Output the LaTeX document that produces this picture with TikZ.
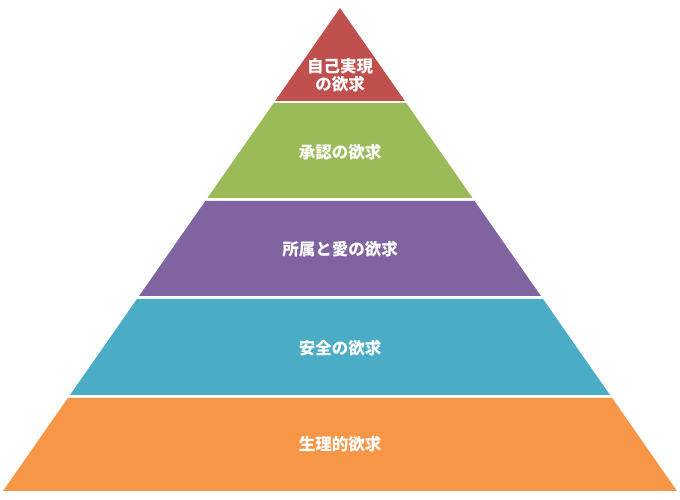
\documentclass[tikz,border=0pt]{standalone}
\usepackage{fontspec}
\newfontfamily\jpfont{Noto Sans CJK JP}
\usepackage{xcolor}
\definecolor{tierRed}{HTML}{C0504D}
\definecolor{tierGreen}{HTML}{9BBB59}
\definecolor{tierPurple}{HTML}{8064A2}
\definecolor{tierBlue}{HTML}{4BACC6}
\definecolor{tierOrange}{HTML}{F79646}
\usepackage{tikz}
\tikzset{
    % Base style for the tier labels
    tier text/.style={
        font=\jpfont\bfseries\fontsize{16.5}{18}\selectfont,
        text=white,
        align=center,
        inner sep=0pt,
    },
}

\begin{document}
\begin{tikzpicture}[x=1pt, y=1pt]
    \useasboundingbox (0,0) rectangle (680,500);
    % Pyramid tiers, apex at (340,492), slope of the sides 0.6977
    \foreach \ytop/\ybot/\col in {492/399/tierRed, 397/302/tierGreen,
        299/204/tierPurple, 201/105/tierBlue, 102/9/tierOrange}{
        \pgfmathsetmacro\wt{0.6977*(492-\ytop)}
        \pgfmathsetmacro\wb{0.6977*(492-\ybot)}
        \fill [\col] (340-\wt,\ytop) -- (340+\wt,\ytop)
            -- (340+\wb,\ybot) -- (340-\wb,\ybot) -- cycle;
    }

    \node (selfact) [tier text] at (340,425) {自己実現\\の欲求};
    \node (esteem) [tier text] at (340,348) {承認の欲求};
    \node (belong) [tier text] at (340,251) {所属と愛の欲求};
    \node (safety) [tier text] at (340,152) {安全の欲求};
    \node (physio) [tier text] at (340,56) {生理的欲求};
\end{tikzpicture}
\end{document}
